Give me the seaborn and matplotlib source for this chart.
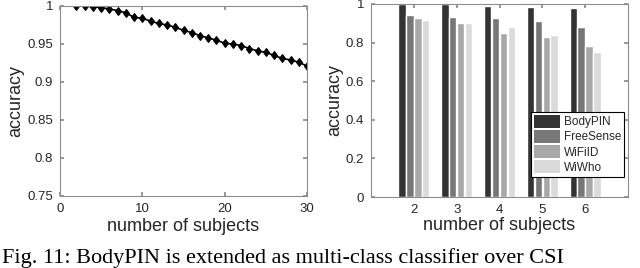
import numpy as np
import pandas as pd
import matplotlib
matplotlib.use("Agg")
import matplotlib.pyplot as plt
from matplotlib.patches import Patch
from matplotlib.ticker import FormatStrFormatter
import seaborn as sns

# --- data: left panel (accuracy vs. number of subjects) ---
n_subjects = list(range(2, 31))
accuracy = [1.000, 1.000, 0.999, 0.998, 0.996, 0.994, 0.991, 0.985, 0.984,
            0.980, 0.977, 0.975, 0.972, 0.968, 0.965, 0.961, 0.958, 0.955,
            0.951, 0.950, 0.948, 0.944, 0.941, 0.939, 0.935, 0.931, 0.929,
            0.926, 0.921]

# --- data: right panel (methods comparison) ---
groups = ["2", "3", "4", "5", "6"]
methods = ["BodyPIN", "FreeSense", "WiFiID", "WiWho"]
bodypin = [1.000, 1.000, 0.990, 0.985, 0.980]
freesense = [0.945, 0.935, 0.930, 0.910, 0.880]
wifiid = [0.925, 0.900, 0.850, 0.830, 0.780]
wiwho = [0.915, 0.900, 0.880, 0.840, 0.750]
colors = ["#333333", "#777777", "#a8a8a8", "#dadada"]

df_bar = pd.DataFrame({
    "subjects": groups * 4,
    "method": np.repeat(methods, len(groups)),
    "accuracy": bodypin + freesense + wifiid + wiwho,
})

sns.set_theme(style="ticks")
plt.rcParams["font.family"] = ["Liberation Sans", "DejaVu Sans"]
plt.rcParams["axes.edgecolor"] = "#8c8c8c"
plt.rcParams["axes.linewidth"] = 0.8
plt.rcParams["xtick.color"] = "#8c8c8c"
plt.rcParams["ytick.color"] = "#8c8c8c"
plt.rcParams["xtick.labelcolor"] = "#262626"
plt.rcParams["ytick.labelcolor"] = "#262626"

fig = plt.figure(figsize=(6.4, 2.68), dpi=100)
ax1 = fig.add_axes([60 / 640, 1 - 196 / 268, 247 / 640, 190 / 268])
ax2 = fig.add_axes([371 / 640, 1 - 197 / 268, 257 / 640, 193 / 268])

# left: line with diamond markers
sns.lineplot(x=n_subjects, y=accuracy, ax=ax1, color="black", linewidth=1.2,
             marker="d", markersize=4.5, markeredgecolor="black")
ax1.set_xlim(0, 30)
ax1.set_ylim(0.75, 1.0)
ax1.set_xticks([0, 10, 20, 30])
ax1.set_yticks([0.75, 0.8, 0.85, 0.9, 0.95, 1.0])
ax1.yaxis.set_major_formatter(FormatStrFormatter("%g"))
ax1.set_xlabel("number of subjects", fontsize=13, labelpad=2)
ax1.set_ylabel("accuracy", fontsize=13, labelpad=2)

# right: grouped bars
sns.barplot(data=df_bar, x="subjects", y="accuracy", hue="method",
            order=groups, hue_order=methods, palette=colors, ax=ax2,
            width=0.74, gap=0.05, saturation=1, legend=False)
ax2.set_xlim(-1, 5)
ax2.set_ylim(0, 1.0)
ax2.set_yticks([0, 0.2, 0.4, 0.6, 0.8, 1.0])
ax2.yaxis.set_major_formatter(FormatStrFormatter("%g"))
ax2.set_xlabel("number of subjects", fontsize=13, labelpad=1)
ax2.set_ylabel("accuracy", fontsize=13, labelpad=2)

handles = [Patch(facecolor=c, edgecolor="none") for c in colors]
leg = ax2.legend(handles, methods, loc="lower right",
                 bbox_to_anchor=(0.985, 0.105), fontsize=8.5,
                 handlelength=2.2, handleheight=1.3, handletextpad=0.3,
                 labelspacing=0.15, borderpad=0.25, borderaxespad=0,
                 fancybox=False, framealpha=1)
leg.get_frame().set_edgecolor("black")
leg.get_frame().set_linewidth(0.8)

for ax in (ax1, ax2):
    ax.tick_params(direction="in", top=True, right=True, length=3,
                   labelsize=9.5, pad=5)
    for s in ax.spines.values():
        s.set_visible(True)

# caption of the figure at the bottom edge
fig.text(0.003, 0.5 / 268, "Fig. 11: BodyPIN is extended as multi-class classifier over CSI",
         family=["Liberation Serif", "DejaVu Serif"], fontsize=16,
         ha="left", va="bottom", color="black")

fig.savefig("out.png", dpi=100)
